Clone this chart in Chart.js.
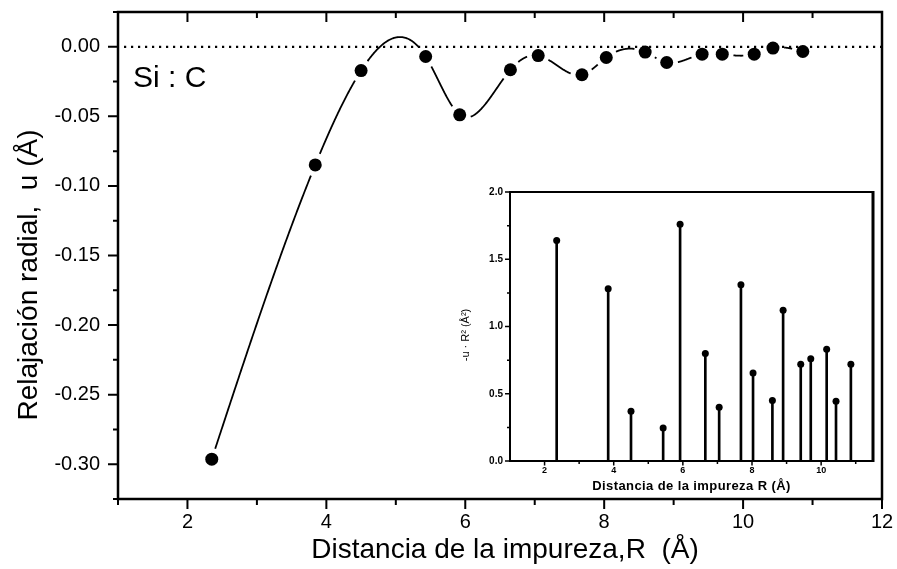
<!DOCTYPE html>
<html>
<head>
<meta charset="utf-8">
<script src="https://cdn.jsdelivr.net/npm/chart.js@4/dist/chart.umd.min.js"></script>
<style>
html,body{margin:0;padding:0;background:#fff;}
#wrap{position:relative;width:897px;height:569px;overflow:hidden;background:#fff;}
#main{position:absolute;left:0;top:0;}
#inset{position:absolute;left:440px;top:180px;}
</style>
</head>
<body>
<div id="wrap">
<canvas id="main" width="897" height="569"></canvas>
<canvas id="inset" width="445" height="320"></canvas>
</div>
<script>
const FONT = "'Liberation Sans', Arial, Helvetica, sans-serif";

// ---- data ----
const distances  = [2.35, 3.84, 4.50, 5.43, 5.92, 6.65, 7.05, 7.68, 8.03, 8.59, 8.90, 9.41, 9.70, 10.16, 10.43, 10.86];
const relaxation = [-0.2964, -0.0849, -0.0171, -0.0070, -0.0489, -0.0165, -0.0063, -0.0201, -0.0077, -0.0038, -0.0113, -0.0053, -0.0053, -0.0053, -0.0009, -0.0034];
const weightedRelax = [1.64, 1.28, 0.37, 0.245, 1.76, 0.80, 0.40, 1.31, 0.655, 0.45, 1.12, 0.72, 0.76, 0.83, 0.445, 0.72];

const mainXTicks  = [2, 4, 6, 8, 10, 12];
const mainYTicks  = [0.00, -0.05, -0.10, -0.15, -0.20, -0.25, -0.30];
const insetXTicks = [2, 4, 6, 8, 10];
const insetYTicks = [0.0, 0.5, 1.0, 1.5, 2.0];

const mainXTitle  = 'Distancia de la impureza,R  (Å)';
const mainYTitle  = 'Relajación radial,  u (Å)';
const systemLabel = 'Si : C';
const insetXTitle = 'Distancia de la impureza R (Å)';
const insetYTitle = '-u · R² (Å²)';

// ---- natural cubic spline (data space) ----
function naturalSpline(xs, ys) {
  const n = xs.length, h = [], M = new Array(n).fill(0);
  for (let i = 0; i < n - 1; i++) h[i] = xs[i + 1] - xs[i];
  const a = [], b = [], c = [], d = [], cp = [], dp = [];
  for (let i = 1; i < n - 1; i++) {
    a[i] = h[i - 1]; b[i] = 2 * (h[i - 1] + h[i]); c[i] = h[i];
    d[i] = 6 * ((ys[i + 1] - ys[i]) / h[i] - (ys[i] - ys[i - 1]) / h[i - 1]);
  }
  for (let i = 1; i < n - 1; i++) {
    const m = b[i] - (i > 1 ? a[i] * cp[i - 1] : 0);
    cp[i] = c[i] / m;
    dp[i] = (d[i] - (i > 1 ? a[i] * dp[i - 1] : 0)) / m;
  }
  for (let i = n - 2; i >= 1; i--) M[i] = dp[i] - (i < n - 2 ? cp[i] * M[i + 1] : 0);
  return (i, t) => {
    const hi = h[i], A = 1 - t, B = t;
    return {
      x: xs[i] + t * hi,
      y: A * ys[i] + B * ys[i + 1] + ((A * A * A - A) * M[i] + (B * B * B - B) * M[i + 1]) * hi * hi / 6
    };
  };
}

function noScalePadding(s) {
  s.paddingTop = 0; s.paddingBottom = 0; s.paddingLeft = 0; s.paddingRight = 0;
}

const mainDeco = {
  id: 'mainDeco',
  beforeDatasetsDraw(chart) {
    const {ctx, chartArea: {left, right}, scales: {x, y}} = chart;
    ctx.save();
    // dotted reference line at u = 0
    ctx.strokeStyle = '#000';
    ctx.lineWidth = 2.2;
    ctx.setLineDash([2.2, 4.8]);
    const y0 = y.getPixelForValue(0);
    ctx.beginPath(); ctx.moveTo(left + 6, y0); ctx.lineTo(right, y0); ctx.stroke();
    ctx.setLineDash([]);
    // spline through the points, with gaps around the markers
    const sp = naturalSpline(distances, relaxation);
    const gap = 11;
    ctx.lineWidth = 1.8;
    for (let i = 0; i < distances.length - 1; i++) {
      const p0 = {x: x.getPixelForValue(distances[i]), y: y.getPixelForValue(relaxation[i])};
      const p1 = {x: x.getPixelForValue(distances[i + 1]), y: y.getPixelForValue(relaxation[i + 1])};
      const N = 120;
      let drawing = false;
      ctx.beginPath();
      for (let k = 0; k <= N; k++) {
        const q = sp(i, k / N);
        const px = x.getPixelForValue(q.x), py = y.getPixelForValue(q.y);
        const ok = Math.hypot(px - p0.x, py - p0.y) > gap && Math.hypot(px - p1.x, py - p1.y) > gap;
        if (ok) {
          if (!drawing) { ctx.moveTo(px, py); drawing = true; } else ctx.lineTo(px, py);
        } else drawing = false;
      }
      ctx.stroke();
    }
    ctx.restore();
  },
  afterDraw(chart) {
    const {ctx, chartArea: {left, right, top, bottom}, scales: {x, y}} = chart;
    ctx.save();
    ctx.strokeStyle = '#000';
    ctx.fillStyle = '#000';
    // ticks
    ctx.lineWidth = 2;
    ctx.beginPath();
    for (let v = 1; v <= 12; v++) {
      const px = x.getPixelForValue(v);
      const len = v % 2 === 0 ? 10 : 6;
      ctx.moveTo(px, bottom); ctx.lineTo(px, bottom + len);
      ctx.moveTo(px, top); ctx.lineTo(px, top + len);
    }
    for (let k = 0; k <= 14; k++) {
      const v = -0.325 + k * 0.025;
      const py = y.getPixelForValue(v);
      const major = k % 2 === 1;
      const len = major ? 10 : 5;
      ctx.moveTo(left - len, py); ctx.lineTo(left, py);
    }
    ctx.stroke();
    // frame
    ctx.lineWidth = 2.5;
    ctx.strokeRect(left, top, right - left, bottom - top);
    // titles
    ctx.font = `28px ${FONT}`;
    ctx.textAlign = 'center';
    ctx.textBaseline = 'alphabetic';
    ctx.fillText(mainXTitle, 505, 558);
    ctx.save();
    ctx.translate(37, 275);
    ctx.rotate(-Math.PI / 2);
    ctx.fillText(mainYTitle, 0, 0);
    ctx.restore();
    ctx.font = `30px ${FONT}`;
    ctx.textAlign = 'left';
    ctx.fillText(systemLabel, 133, 87);
    ctx.restore();
  }
};

new Chart(document.getElementById('main'), {
  type: 'scatter',
  data: {
    datasets: [{
      data: distances.map((d, i) => ({x: d, y: relaxation[i]})),
      showLine: false,
      pointRadius: 6.5,
      pointBackgroundColor: '#000',
      pointBorderColor: '#000',
      pointBorderWidth: 0
    }]
  },
  options: {
    responsive: false,
    animation: false,
    devicePixelRatio: 1,
    layout: {padding: {left: 0, top: 12, right: 15, bottom: 0}},
    plugins: {legend: {display: false}, tooltip: {enabled: false}},
    scales: {
      x: {
        type: 'linear', min: 1, max: 12,
        afterBuildTicks: s => { s.ticks = mainXTicks.map(v => ({value: v})); },
        afterFit: s => { s.height = 70; noScalePadding(s); },
        ticks: {font: {family: FONT, size: 20}, color: '#000', padding: 11, autoSkip: false, maxRotation: 0},
        grid: {display: false, drawTicks: false},
        border: {display: false}
      },
      y: {
        type: 'linear', min: -0.325, max: 0.025,
        afterBuildTicks: s => { s.ticks = mainYTicks.map(v => ({value: v})); },
        afterFit: s => { s.width = 118; noScalePadding(s); },
        ticks: {font: {family: FONT, size: 20}, color: '#000', padding: 18, autoSkip: false,
                callback: v => v.toFixed(2)},
        grid: {display: false, drawTicks: false},
        border: {display: false}
      }
    }
  },
  plugins: [mainDeco]
});

const insetDeco = {
  id: 'insetDeco',
  beforeDraw(chart) {
    const {ctx, chartArea: {left, right, top, bottom}} = chart;
    ctx.save();
    ctx.fillStyle = '#fff';
    ctx.fillRect(left, top, right - left, bottom - top);
    ctx.restore();
  },
  afterDraw(chart) {
    const {ctx, chartArea: {left, right, top, bottom}, scales: {x, y}} = chart;
    ctx.save();
    ctx.strokeStyle = '#000';
    ctx.fillStyle = '#000';
    ctx.lineWidth = 1.5;
    ctx.beginPath();
    for (let v = 2; v <= 11; v++) {
      const px = x.getPixelForValue(v);
      const len = v % 2 === 0 ? 4.5 : 3;
      ctx.moveTo(px, bottom); ctx.lineTo(px, bottom + len);
    }
    for (let k = 0; k <= 8; k++) {
      const py = y.getPixelForValue(k * 0.25);
      const len = k % 2 === 0 ? 5 : 3;
      ctx.moveTo(left - len, py); ctx.lineTo(left, py);
    }
    ctx.stroke();
    ctx.lineWidth = 2;
    ctx.strokeRect(left, top, right - left, bottom - top);
    ctx.lineWidth = 3;
    ctx.beginPath(); ctx.moveTo(right, top - 1); ctx.lineTo(right, bottom + 1); ctx.stroke();
    // titles
    ctx.font = `bold 13px ${FONT}`;
    ctx.textAlign = 'center';
    ctx.textBaseline = 'alphabetic';
    try { ctx.letterSpacing = '0.4px'; } catch (e) {}
    ctx.fillText(insetXTitle, (left + right) / 2, 310);
    try { ctx.letterSpacing = '0px'; } catch (e) {}
    ctx.font = `11px ${FONT}`;
    ctx.save();
    ctx.translate(29, 155);
    ctx.rotate(-Math.PI / 2);
    ctx.fillText(insetYTitle, 0, 0);
    ctx.restore();
    ctx.restore();
  }
};

const insetPoints = distances.map((d, i) => ({x: d, y: weightedRelax[i]}));
new Chart(document.getElementById('inset'), {
  type: 'bar',
  data: {
    datasets: [
      {
        type: 'scatter',
        data: insetPoints,
        pointRadius: 3.5,
        pointBackgroundColor: '#000',
        pointBorderWidth: 0
      },
      {
        type: 'bar',
        data: insetPoints,
        backgroundColor: '#000',
        borderWidth: 0,
        barThickness: 2
      }
    ]
  },
  options: {
    responsive: false,
    animation: false,
    devicePixelRatio: 1,
    layout: {padding: {left: 0, top: 12, right: 12, bottom: 0}},
    plugins: {legend: {display: false}, tooltip: {enabled: false}},
    scales: {
      x: {
        type: 'linear', min: 1, max: 11.5, offset: false,
        afterBuildTicks: s => { s.ticks = insetXTicks.map(v => ({value: v})); },
        afterFit: s => { s.height = 39; noScalePadding(s); },
        ticks: {font: {family: FONT, size: 9, weight: 'bold'}, color: '#000', padding: 4, autoSkip: false, maxRotation: 0},
        grid: {display: false, drawTicks: false, offset: false},
        border: {display: false}
      },
      y: {
        type: 'linear', min: 0, max: 2,
        afterBuildTicks: s => { s.ticks = insetYTicks.map(v => ({value: v})); },
        afterFit: s => { s.width = 70; noScalePadding(s); },
        ticks: {font: {family: FONT, size: 10, weight: 'bold'}, color: '#000', padding: 7, autoSkip: false,
                callback: v => v.toFixed(1)},
        grid: {display: false, drawTicks: false},
        border: {display: false}
      }
    }
  },
  plugins: [insetDeco]
});
</script>
</body>
</html>
